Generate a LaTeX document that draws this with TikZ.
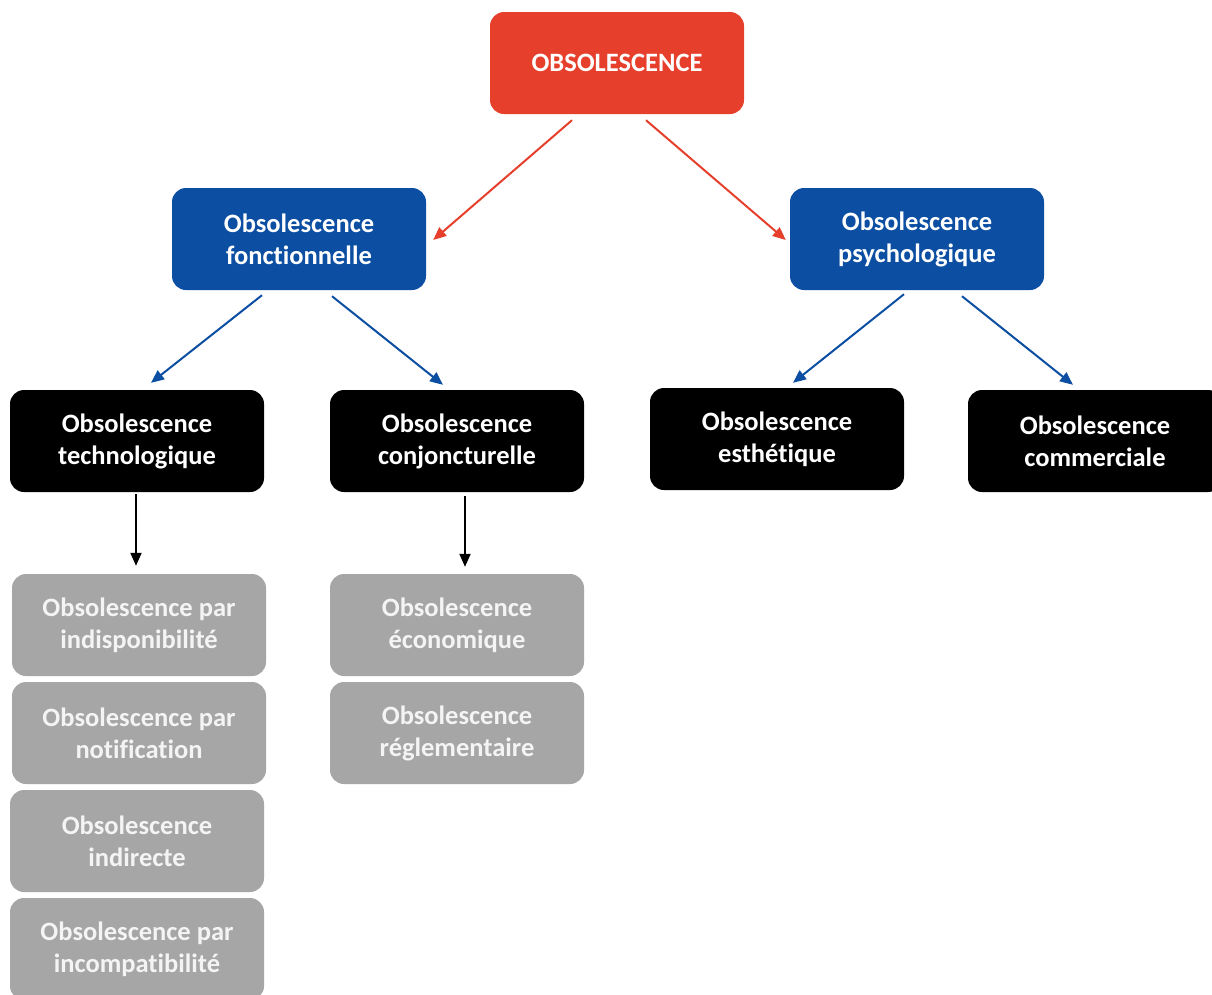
\documentclass[tikz,border=0pt]{standalone}
\usepackage{fontspec}
\setmainfont{Carlito}[Ligatures=NoCommon]
\usetikzlibrary{calc,arrows.meta}
\definecolor{ored}{HTML}{E6402C}
\definecolor{oblue}{HTML}{0B4EA2}
\definecolor{ogrey}{HTML}{A6A6A6}
\definecolor{ogreytext}{HTML}{F4F4F4}
\tikzset{
  box/.style={rounded corners=14pt, minimum width=254pt, minimum height=102pt,
    align=center, text=white, inner sep=0pt,
    font=\fontsize{26.5}{32}\selectfont\bfseries},
  redbox/.style={box, fill=ored},
  bluebox/.style={box, fill=oblue},
  blackbox/.style={box, fill=black},
  greybox/.style={box, fill=ogrey, text=ogreytext},
  link/.style={line width=2pt, -{Triangle[length=13pt,width=11pt]}},
}
\begin{document}
\begin{tikzpicture}[x=1pt,y=-1pt]
\useasboundingbox (0,0) rectangle (1212,994);
\clip (0,0) rectangle (1212,994);
\fill[white] (0,0) rectangle (1212,994);

\node[redbox] (top) at (617,63) {OBSOLESCENCE};
\node[bluebox] (fonc) at (299,239) {Obsolescence\\fonctionnelle};
\node[bluebox] (psy) at (917,239) {Obsolescence\\psychologique};
\node[blackbox] (tech) at (137,441) {Obsolescence\\technologique};
\node[blackbox] (conj) at (457,441) {Obsolescence\\conjoncturelle};
\node[blackbox] (esth) at (777,439) {Obsolescence\\esthétique};
\node[blackbox] (comm) at (1095,441) {Obsolescence\\commerciale};
\node[greybox] (g1) at (139,625) {Obsolescence par\\indisponibilité};
\node[greybox] (g2) at (139,733) {Obsolescence par\\notification};
\node[greybox] (g3) at (137,841) {Obsolescence\\indirecte};
\node[greybox] (g4) at (137,949) {Obsolescence par\\incompatibilité};
\node[greybox] (g5) at (457,625) {Obsolescence\\économique};
\node[greybox] (g6) at (457,733) {Obsolescence\\réglementaire};

\draw[link, ored] ($(top.south)+(-45,6)$) -- ($(fonc.east)+(7,1)$);
\draw[link, ored] ($(top.south)+(29,6)$) -- ($(psy.west)+(-4,1)$);
\draw[link, oblue] ($(fonc.south)+(-37,5)$) -- ($(tech.north)+(14,-7)$);
\draw[link, oblue] ($(fonc.south)+(33,6)$) -- ($(conj.north)+(-14,-5)$);
\draw[link, oblue] ($(psy.south)+(-13,4)$) -- ($(esth.north)+(16,-5)$);
\draw[link, oblue] ($(psy.south)+(45,6)$) -- ($(comm.north)+(-22,-5)$);
\draw[link, black] ($(tech.south)+(-1,2)$) -- ($(g1.north)+(-3,-8)$);
\draw[link, black] ($(conj.south)+(8,4)$) -- ($(g5.north)+(8,-7)$);
\end{tikzpicture}
\end{document}
